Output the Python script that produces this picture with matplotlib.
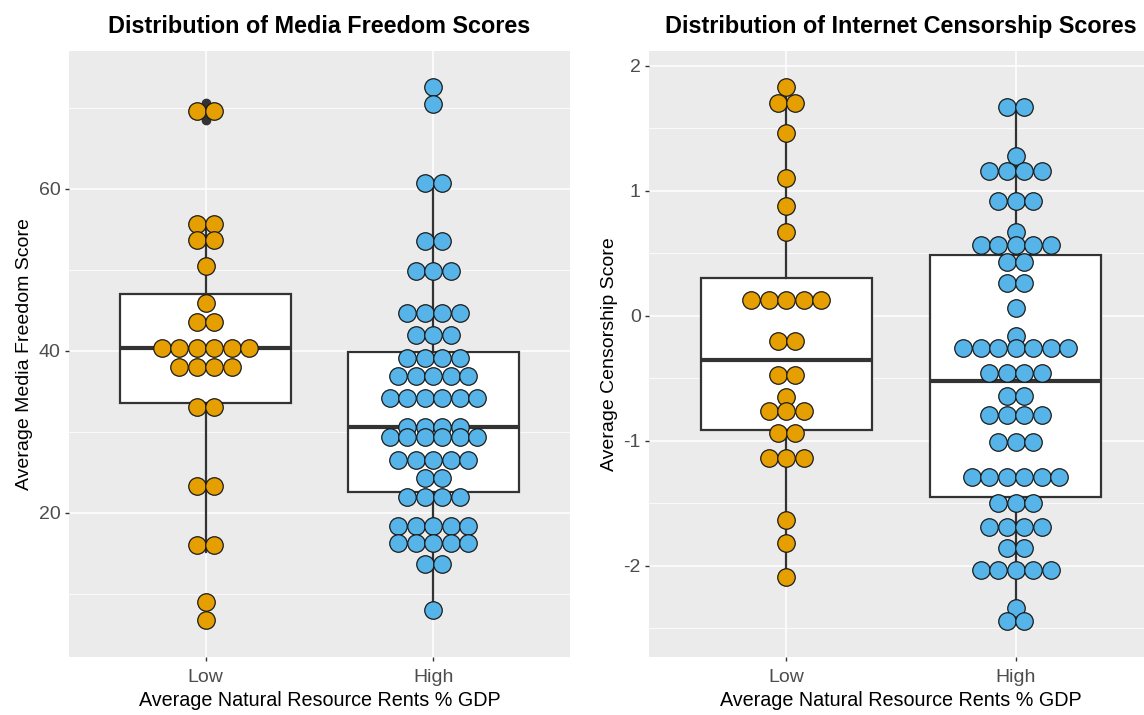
import numpy as np
import matplotlib.pyplot as plt

plt.rcParams['font.family'] = ['Liberation Sans', 'DejaVu Sans']
plt.rcParams['axes.unicode_minus'] = False

categories = ['Low', 'High']
colours = ['#E69F00', '#56B4E9']

# Media freedom: dotplot bin centres and number of dots in each bin
media_low_bins = [69.6, 55.6, 53.7, 50.5, 45.9, 43.6, 40.4, 38.0, 33.1, 23.3, 16.0, 9.0, 6.8]
media_low_counts = [2, 2, 2, 1, 1, 2, 6, 4, 2, 2, 2, 1, 1]
media_high_bins = [72.6, 70.4, 60.7, 53.5, 49.9, 44.7, 42.0, 39.1, 36.9, 34.2, 30.6,
                   29.3, 26.5, 24.3, 22.0, 18.4, 16.3, 13.7, 8.0]
media_high_counts = [1, 1, 2, 2, 3, 4, 3, 4, 5, 6, 4, 6, 5, 2, 4, 5, 5, 2, 1]

# Media freedom box stats (Low, High)
media_q1 = [33.5, 22.6]
media_med = [40.4, 30.6]
media_q3 = [47.0, 39.9]
media_whislo = [15.2, 8.0]
media_whishi = [55.6, 60.7]
media_fliers = [[70.6, 68.5, 9.0, 6.8], [72.6, 70.4]]

# Censorship: dotplot bin centres and counts
cens_low_bins = [1.83, 1.70, 1.46, 1.10, 0.88, 0.67, 0.13, -0.20, -0.47, -0.65, -0.76,
                 -0.94, -1.14, -1.63, -1.82, -2.09]
cens_low_counts = [1, 2, 1, 1, 1, 1, 5, 2, 2, 1, 3, 2, 3, 1, 1, 1]
cens_high_bins = [1.67, 1.28, 1.16, 0.92, 0.67, 0.57, 0.43, 0.26, 0.06, -0.16, -0.26,
                  -0.46, -0.64, -0.79, -1.01, -1.29, -1.50, -1.69, -1.86, -2.03, -2.34, -2.44]
cens_high_counts = [2, 1, 4, 3, 1, 5, 2, 2, 1, 1, 7, 4, 2, 4, 3, 6, 3, 4, 2, 5, 1, 2]

cens_q1 = [-0.91, -1.45]
cens_med = [-0.35, -0.52]
cens_q3 = [0.30, 0.49]
cens_whislo = [-2.09, -2.44]
cens_whishi = [1.83, 1.67]
cens_fliers = [[], []]


def panel(ax, bins, counts, q1, med, q3, lo, hi, fliers, title, ylabel, ylim, major, minor):
    ax.set_facecolor('#EBEBEB')
    for s in ax.spines.values():
        s.set_visible(False)

    stats = []
    for i in range(2):
        stats.append(dict(q1=q1[i], med=med[i], q3=q3[i], whislo=lo[i], whishi=hi[i],
                          fliers=fliers[i]))
    ax.bxp(stats, positions=[1, 2], widths=0.75, patch_artist=True, showcaps=False,
           manage_ticks=False,
           boxprops=dict(facecolor='white', edgecolor='#333333', lw=1.6),
           medianprops=dict(color='#333333', lw=3),
           whiskerprops=dict(color='#333333', lw=1.6),
           flierprops=dict(marker='o', markersize=6, markerfacecolor='#333333',
                           markeredgecolor='#333333'),
           zorder=2)

    ax.set_xlim(0.4, 2.6)
    ax.set_ylim(*ylim)
    ax.set_yticks(major)
    ax.set_yticks(minor, minor=True)
    ax.set_xticks([1, 2])
    ax.set_xticklabels(categories)
    ax.grid(which='major', color='white', lw=1.1)
    ax.grid(which='minor', axis='y', color='white', lw=0.55)
    ax.set_axisbelow(True)
    ax.tick_params(which='major', length=3, width=1, color='#333333', labelcolor='#4D4D4D',
                   labelsize=14, pad=3)
    ax.tick_params(axis='x', pad=6)
    ax.tick_params(which='minor', length=0)
    ax.set_title(title, fontsize=16.8, fontweight='bold', pad=13)
    ax.set_ylabel(ylabel, fontsize=14, labelpad=4)
    ax.set_xlabel('Average Natural Resource Rents % GDP', fontsize=14.2, labelpad=3)

    # dot stacking step in data units
    d_px = 17.5
    p0 = ax.transData.transform((0, 0))
    p1 = ax.transData.transform((1, 0))
    step = d_px / (p1[0] - p0[0])
    size = (d_px * 72 / 100) ** 2
    for i in range(2):
        xs, ys = [], []
        for b, n in zip(bins[i], counts[i]):
            for k in range(n):
                xs.append(i + 1 + (k - (n - 1) / 2) * step)
                ys.append(b)
        ax.scatter(xs, ys, s=size, color=colours[i], edgecolor='#1a1a1a', lw=0.9, zorder=3)


fig = plt.figure(figsize=(11.44, 7.15), dpi=100)
ax1 = fig.add_axes([69 / 1144, 58 / 715, 501 / 1144, 606 / 715])
ax2 = fig.add_axes([649 / 1144, 58 / 715, 504 / 1144, 606 / 715])

panel(ax1, [media_low_bins, media_high_bins], [media_low_counts, media_high_counts],
      media_q1, media_med, media_q3, media_whislo, media_whishi, media_fliers,
      'Distribution of Media Freedom Scores', 'Average Media Freedom Score',
      (2.2, 77.0), [20, 40, 60], [10, 30, 50, 70])
panel(ax2, [cens_low_bins, cens_high_bins], [cens_low_counts, cens_high_counts],
      cens_q1, cens_med, cens_q3, cens_whislo, cens_whishi, cens_fliers,
      'Distribution of Internet Censorship Scores', 'Average Censorship Score',
      (-2.73, 2.12), [-2, -1, 0, 1, 2], [-2.5, -1.5, -0.5, 0.5, 1.5])

fig.savefig('out.png', dpi=100)
